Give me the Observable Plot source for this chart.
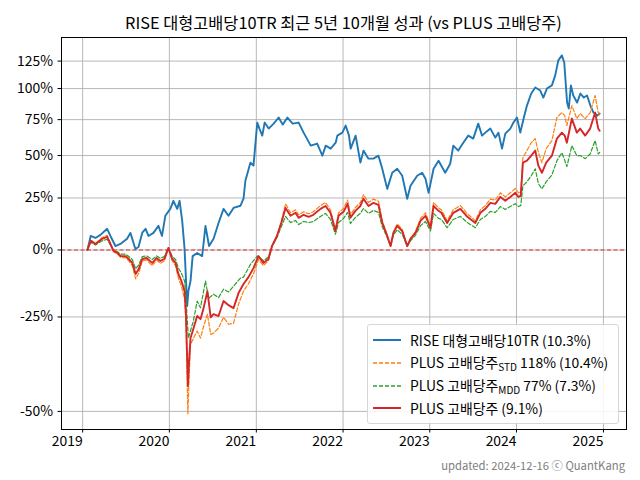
<!DOCTYPE html>
<html>
<head>
<meta charset="utf-8">
<script src="https://cdn.jsdelivr.net/npm/d3@7"></script>
<script src="https://cdn.jsdelivr.net/npm/@observablehq/plot@0.6"></script>
<style>
  html, body { margin: 0; padding: 0; background: #fff; }
  #wrap { position: relative; width: 640px; height: 480px; font-family: "Noto Sans CJK KR", "Noto Sans", sans-serif; }
  #title { position: absolute; left: 343.5px; top: 21.5px; transform: translate(-50%, -50%); white-space: nowrap; font-size: 16px; color: #000; line-height: 1; }
  #foot { position: absolute; right: 15px; top: 465.5px; transform: translateY(-50%); white-space: nowrap; font-size: 12px; color: #808080; line-height: 1; }
  #legend { position: absolute; left: 367px; top: 324px; width: 252px; height: 100px; border: 1px solid #d6d6d6; border-radius: 3px; background: rgba(255,255,255,0.85); box-sizing: border-box; }
  .row { position: absolute; left: 5px; height: 20px; display: flex; align-items: center; font-size: 13.9px; white-space: nowrap; }
  .row svg { margin-right: 9px; }
  sub { font-size: 0.72em; vertical-align: -0.25em; }
</style>
</head>
<body>
<div id="wrap">
  <div id="chart"></div>
  <div id="title">RISE 대형고배당10TR 최근 5년 10개월 성과 (vs PLUS 고배당주)</div>
  <div id="legend"></div>
  <div id="foot">updated: 2024-12-16 ⓒ QuantKang</div>
</div>
<script>
// ---- data: cumulative return (%) ----
const rise = [
  ["2019-01-21",0],["2019-02-04",6.2],["2019-02-24",5.3],["2019-03-17",6.7],["2019-04-14",9.5],["2019-04-28",6.2],
  ["2019-05-19",1.7],["2019-06-09",2.6],["2019-07-07",4.9],["2019-07-21",7.6],["2019-08-11",0.4],["2019-08-24",1.3],
  ["2019-09-09",7.7],["2019-09-23",9.5],["2019-10-05",6.2],["2019-10-26",7.6],["2019-11-16",10.9],["2019-12-01",6.2],
  ["2019-12-15",15.8],["2020-01-05",19.3],["2020-01-18",23.5],["2020-02-03",19.3],["2020-02-13",23.5],["2020-02-24",13.3],
  ["2020-03-05",0.4],["2020-03-16",-21.4],["2020-03-21",-16.2],["2020-03-30",-12.5],["2020-04-08",-2.6],["2020-04-27",-1.3],
  ["2020-05-18",-2.6],["2020-06-01",10.9],["2020-06-16",1.7],["2020-07-05",4.9],["2020-07-26",12.3],["2020-08-16",19.3],
  ["2020-09-06",15.8],["2020-09-27",19.8],["2020-10-26",20.9],["2020-11-08",24.6],["2020-11-16",34.6],["2020-12-07",45.5],
  ["2020-12-20",43.6],["2021-01-05",72.8],["2021-01-14",68.4],["2021-01-26",63.4],["2021-02-05",72.8],["2021-02-22",68.4],
  ["2021-03-15",72.0],["2021-04-05",76.6],["2021-04-22",71.3],["2021-05-12",76.6],["2021-06-03",72.0],["2021-06-28",72.8],
  ["2021-07-19",65.5],["2021-08-18",56.5],["2021-09-14",57.9],["2021-10-06",49.9],["2021-10-20",56.5],["2021-11-10",54.5],
  ["2021-12-01",58.5],["2021-12-08",63.4],["2021-12-29",65.5],["2022-01-12",70.6],["2022-01-26",63.4],["2022-02-02",54.5],
  ["2022-02-23",63.4],["2022-03-15",45.5],["2022-03-28",53.2],["2022-04-18",48.0],["2022-05-09",48.0],["2022-05-30",49.9],
  ["2022-06-15",41.7],["2022-07-06",30.0],["2022-07-27",39.3],["2022-08-17",41.7],["2022-09-07",37.5],["2022-09-28",24.6],
  ["2022-10-12",31.7],["2022-11-09",37.5],["2022-11-30",39.3],["2022-12-14",35.8],["2022-12-27",27.8],["2023-01-17",41.7],
  ["2023-02-07",46.7],["2023-03-07",39.3],["2023-03-28",44.8],["2023-04-10",56.5],["2023-05-01",53.2],["2023-05-22",58.5],
  ["2023-06-12",63.4],["2023-07-03",61.3],["2023-07-24",72.0],["2023-08-09",63.4],["2023-08-23",65.5],["2023-09-13",68.4],
  ["2023-10-04",62.0],["2023-10-17",65.5],["2023-11-01",54.5],["2023-11-15",64.8],["2023-12-06",68.4],["2023-12-19",72.8],
  ["2024-01-03",76.6],["2024-01-17",65.5],["2024-01-31",75.8],["2024-02-14",85.9],["2024-03-03",95.8],["2024-03-20",100.9],
  ["2024-04-10",98.3],["2024-04-23",92.4],["2024-05-08",100.0],["2024-05-29",102.7],["2024-06-12",111.6],["2024-06-25",125.7],
  ["2024-07-10",130.6],["2024-07-20",123.7],["2024-08-01",88.3],["2024-08-08",83.5],["2024-08-17",102.7],["2024-08-27",94.1],
  ["2024-09-12",88.3],["2024-09-26",95.8],["2024-10-10",92.4],["2024-10-24",94.1],["2024-11-07",85.9],["2024-11-20",80.4],
  ["2024-12-06",78.1],["2024-12-16",79.6]
];
const plusStd = [
  ["2019-01-21",0],["2019-02-04",4.5],["2019-02-24",2.8],["2019-03-24",5.5],["2019-04-14",6.5],["2019-04-28",2.8],
  ["2019-05-11",-0.8],["2019-05-28",-1.8],["2019-06-10",-3.2],["2019-07-01",-3.2],["2019-07-14",-4.6],["2019-07-29",-6.5],
  ["2019-08-12",-11.7],["2019-08-25",-9.5],["2019-09-09",-4.6],["2019-09-27",-4.2],["2019-10-21",-6.5],["2019-11-08",-4.2],
  ["2019-11-24",-5.6],["2019-12-11",-4.6],["2019-12-28",1.0],["2020-01-13",-4.6],["2020-01-27",-6.5],["2020-02-08",-11.5],
  ["2020-02-21",-14.5],["2020-03-05",-19.0],["2020-03-11",-28.0],["2020-03-19",-50.5],["2020-03-24",-42.0],["2020-03-30",-33.3],
  ["2020-04-12",-31.5],["2020-04-27",-29.4],["2020-05-11",-31.5],["2020-05-24",-28.0],["2020-06-09",-24.1],["2020-06-23",-30.4],
  ["2020-07-05",-30.0],["2020-07-26",-28.5],["2020-08-16",-25.1],["2020-09-06",-27.3],["2020-09-27",-27.0],["2020-10-18",-20.8],
  ["2020-11-08",-16.2],["2020-11-29",-13.5],["2020-12-20",-9.8],["2021-01-10",-4.0],["2021-01-31",-6.5],["2021-02-21",-4.5],
  ["2021-03-08",1.5],["2021-03-29",6.5],["2021-04-16",13.0],["2021-05-04",21.9],["2021-05-25",17.3],["2021-06-15",18.8],
  ["2021-06-28",16.3],["2021-07-19",17.8],["2021-08-09",16.8],["2021-08-29",17.8],["2021-09-28",21.0],["2021-10-19",22.6],
  ["2021-11-09",18.8],["2021-11-30",9.3],["2021-12-13",17.3],["2022-01-03",19.5],["2022-01-20",23.9],["2022-02-01",16.3],
  ["2022-02-22",20.0],["2022-03-15",22.6],["2022-03-28",26.8],["2022-04-18",22.6],["2022-05-09",24.4],["2022-05-30",23.3],
  ["2022-06-15",13.4],["2022-07-06",6.6],["2022-07-20",1.6],["2022-08-01",8.2],["2022-08-17",11.8],["2022-09-07",9.2],
  ["2022-09-28",1.6],["2022-10-12",5.2],["2022-11-02",8.2],["2022-11-23",14.5],["2022-12-14",17.3],["2023-01-04",10.8],
  ["2023-01-17",22.6],["2023-02-07",19.8],["2023-02-19",18.8],["2023-03-15",13.4],["2023-04-10",18.8],["2023-05-10",21.0],
  ["2023-06-08",16.8],["2023-07-12",13.4],["2023-08-02",18.8],["2023-08-23",21.0],["2023-09-13",24.4],["2023-10-04",23.9],
  ["2023-10-25",27.8],["2023-11-15",25.6],["2023-12-06",27.8],["2023-12-27",30.2],["2024-01-09",27.8],["2024-01-19",28.5],
  ["2024-01-28",48.6],["2024-02-14",53.2],["2024-03-03",58.5],["2024-03-20",61.3],["2024-04-02",51.9],["2024-04-17",45.5],
  ["2024-05-05",54.5],["2024-05-29",59.9],["2024-06-19",76.6],["2024-07-10",80.4],["2024-07-22",78.1],["2024-07-31",70.6],
  ["2024-08-21",85.9],["2024-09-11",75.8],["2024-09-25",79.6],["2024-10-16",75.8],["2024-11-06",80.4],["2024-11-27",94.1],
  ["2024-12-10",80.4],["2024-12-16",78.1]
];
const plusMdd = [
  ["2019-01-21",0],["2019-02-04",3.3],["2019-02-24",2.2],["2019-03-24",4.0],["2019-04-14",4.7],["2019-04-28",2.2],
  ["2019-05-11",-0.2],["2019-05-28",-0.8],["2019-06-10",-1.8],["2019-07-01",-1.8],["2019-07-14",-2.8],["2019-07-29",-4.0],
  ["2019-08-12",-7.8],["2019-08-25",-6.2],["2019-09-09",-2.8],["2019-09-27",-2.5],["2019-10-21",-4.0],["2019-11-08",-2.5],
  ["2019-11-24",-3.5],["2019-12-11",-2.8],["2019-12-28",1.0],["2020-01-13",-2.8],["2020-01-27",-4.0],["2020-02-08",-7.5],
  ["2020-02-21",-9.5],["2020-03-05",-12.5],["2020-03-11",-19.0],["2020-03-21",-31.5],["2020-04-11",-26.3],["2020-04-27",-19.7],
  ["2020-05-11",-22.0],["2020-06-01",-12.5],["2020-06-14",-18.7],["2020-07-05",-17.3],["2020-07-26",-18.5],["2020-08-16",-15.5],
  ["2020-09-06",-16.5],["2020-09-27",-14.4],["2020-10-26",-11.4],["2020-11-08",-11.0],["2020-12-08",-5.9],["2021-01-05",-2.6],
  ["2021-01-31",-4.5],["2021-02-21",-3.0],["2021-03-08",1.5],["2021-03-29",5.5],["2021-04-16",10.5],["2021-05-04",15.5],
  ["2021-05-25",12.5],["2021-06-15",13.5],["2021-06-28",11.5],["2021-07-19",13.0],["2021-08-09",12.5],["2021-08-29",13.0],
  ["2021-09-28",15.5],["2021-10-19",17.0],["2021-11-09",14.0],["2021-11-30",7.0],["2021-12-13",12.5],["2022-01-03",14.5],
  ["2022-01-20",17.5],["2022-02-01",12.0],["2022-02-22",15.0],["2022-03-15",17.0],["2022-03-28",19.5],["2022-04-18",17.0],
  ["2022-05-09",18.5],["2022-05-30",17.5],["2022-06-15",10.5],["2022-07-06",5.5],["2022-07-20",1.5],["2022-08-01",6.5],
  ["2022-08-17",9.0],["2022-09-07",7.0],["2022-09-28",1.5],["2022-10-12",4.0],["2022-11-02",6.5],["2022-11-23",11.0],
  ["2022-12-14",13.0],["2023-01-04",8.5],["2023-01-17",17.0],["2023-02-07",14.5],["2023-02-19",14.0],["2023-03-15",10.0],
  ["2023-04-10",14.0],["2023-05-10",15.5],["2023-06-08",12.5],["2023-07-12",10.0],["2023-08-02",14.0],["2023-08-23",15.5],
  ["2023-09-13",18.0],["2023-10-04",17.5],["2023-10-25",20.5],["2023-11-15",19.0],["2023-12-06",20.5],["2023-12-27",22.0],
  ["2024-01-09",20.5],["2024-01-19",21.0],["2024-01-28",31.7],["2024-02-14",34.0],["2024-03-03",37.5],["2024-03-20",41.7],
  ["2024-04-02",33.0],["2024-04-17",30.0],["2024-05-05",34.0],["2024-05-29",38.0],["2024-06-19",46.7],["2024-07-10",51.8],
  ["2024-07-22",47.0],["2024-07-31",43.0],["2024-08-21",56.5],["2024-09-11",49.9],["2024-09-25",50.0],["2024-10-16",48.0],
  ["2024-11-06",51.0],["2024-11-27",60.0],["2024-12-10",51.0],["2024-12-16",52.0]
];
const plus = [
  ["2019-01-21",0],["2019-02-04",4.0],["2019-02-24",2.6],["2019-03-24",4.9],["2019-04-14",5.8],["2019-04-28",2.6],
  ["2019-05-11",-0.4],["2019-05-28",-1.3],["2019-06-10",-2.6],["2019-07-01",-2.6],["2019-07-14",-3.8],["2019-07-29",-5.4],
  ["2019-08-12",-9.8],["2019-08-25",-7.9],["2019-09-09",-3.8],["2019-09-27",-3.4],["2019-10-21",-5.4],["2019-11-08",-3.4],
  ["2019-11-24",-4.6],["2019-12-11",-3.8],["2019-12-28",0.9],["2020-01-13",-3.8],["2020-01-27",-5.4],["2020-02-08",-9.8],
  ["2020-02-21",-12.5],["2020-03-05",-16.2],["2020-03-11",-24.1],["2020-03-19",-44.3],["2020-03-24",-38.0],["2020-03-30",-31.5],
  ["2020-04-12",-28.5],["2020-04-27",-24.7],["2020-05-11",-25.7],["2020-05-24",-22.1],["2020-06-09",-16.2],["2020-06-23",-25.1],
  ["2020-07-05",-24.1],["2020-07-26",-24.7],["2020-08-16",-19.7],["2020-09-06",-21.1],["2020-09-27",-22.1],["2020-10-18",-16.9],
  ["2020-11-08",-13.6],["2020-11-29",-11.0],["2020-12-20",-7.5],["2021-01-10",-2.6],["2021-01-31",-5.4],["2021-02-21",-3.8],
  ["2021-03-08",1.7],["2021-03-29",6.2],["2021-04-16",12.3],["2021-05-04",19.8],["2021-05-25",15.8],["2021-06-15",17.3],
  ["2021-06-28",14.8],["2021-07-19",16.3],["2021-08-09",15.3],["2021-08-29",16.3],["2021-09-28",19.3],["2021-10-19",20.8],
  ["2021-11-09",17.3],["2021-11-30",8.5],["2021-12-13",15.8],["2022-01-03",17.8],["2022-01-20",21.9],["2022-02-01",14.8],
  ["2022-02-22",18.3],["2022-03-15",20.8],["2022-03-28",24.6],["2022-04-18",20.8],["2022-05-09",22.4],["2022-05-30",21.4],
  ["2022-06-15",12.3],["2022-07-06",6.2],["2022-07-20",1.7],["2022-08-01",7.6],["2022-08-17",10.9],["2022-09-07",8.5],
  ["2022-09-28",1.7],["2022-10-12",4.9],["2022-11-02",7.6],["2022-11-23",13.3],["2022-12-14",15.8],["2023-01-04",9.9],
  ["2023-01-17",20.8],["2023-02-07",18.3],["2023-02-19",17.3],["2023-03-15",12.3],["2023-04-10",17.3],["2023-05-10",19.3],
  ["2023-06-08",15.3],["2023-07-12",12.3],["2023-08-02",17.3],["2023-08-23",19.3],["2023-09-13",22.4],["2023-10-04",21.9],
  ["2023-10-25",25.6],["2023-11-15",23.5],["2023-12-06",25.6],["2023-12-27",27.8],["2024-01-09",25.6],["2024-01-19",26.2],
  ["2024-01-28",45.5],["2024-02-14",46.7],["2024-03-03",49.9],["2024-03-20",53.2],["2024-04-02",43.6],["2024-04-17",39.3],
  ["2024-05-05",45.5],["2024-05-29",49.9],["2024-06-19",61.3],["2024-07-10",65.5],["2024-07-22",63.4],["2024-07-31",58.5],
  ["2024-08-21",75.8],["2024-09-11",65.5],["2024-09-25",68.4],["2024-10-16",63.4],["2024-11-06",68.4],["2024-11-27",80.4],
  ["2024-12-10",68.4],["2024-12-16",66.9]
];
const yTickPct = [-50, -25, 0, 25, 50, 75, 100, 125];
const xTickYears = [2019, 2020, 2021, 2022, 2023, 2024, 2025];
const seriesNames = [
  "RISE 대형고배당10TR (10.3%)",
  "PLUS 고배당주<sub>STD</sub> 118% (10.4%)",
  "PLUS 고배당주<sub>MDD</sub> 77% (7.3%)",
  "PLUS 고배당주 (9.1%)"
];
const colors = ["#1f77b4", "#ff7f0e", "#2ca02c", "#d62728"];

const toRows = arr => arr.map(([d, v]) => ({date: new Date(d), value: 1 + v / 100}));

const chart = Plot.plot({
  width: 640,
  height: 480,
  marginLeft: 61,
  marginRight: 14,
  marginTop: 37,
  marginBottom: 51,
  style: {fontFamily: '"Noto Sans CJK KR", "Noto Sans", sans-serif', fontSize: "13.9px", color: "#000", background: "#fff"},
  x: {type: "utc", domain: [new Date("2018-10-04"), new Date("2025-04-08")]},
  y: {type: "log", domain: [0.4626, 2.49]},
  marks: [
    Plot.gridX(xTickYears.map(y => new Date(Date.UTC(y, 0, 1))), {stroke: "#b0b0b0", strokeOpacity: 1, strokeWidth: 0.9}),
    Plot.gridY(yTickPct.map(p => 1 + p / 100), {stroke: "#b0b0b0", strokeOpacity: 1, strokeWidth: 0.9}),
    Plot.ruleY([1], {stroke: "#ee2a2a", strokeWidth: 1.1, strokeDasharray: "4,2.5"}),
    Plot.lineY(toRows(rise), {x: "date", y: "value", stroke: colors[0], strokeWidth: 1.9}),
    Plot.lineY(toRows(plusStd), {x: "date", y: "value", stroke: colors[1], strokeWidth: 1.2, strokeDasharray: "4,2"}),
    Plot.lineY(toRows(plusMdd), {x: "date", y: "value", stroke: colors[2], strokeWidth: 1.2, strokeDasharray: "4,2"}),
    Plot.lineY(toRows(plus), {x: "date", y: "value", stroke: colors[3], strokeWidth: 1.9}),
    Plot.axisX(xTickYears.map(y => new Date(Date.UTC(y, 0, 1))), {tickFormat: d => String(d.getUTCFullYear()), tickSize: 3.5, tickPadding: 3, textAnchor: "end", label: null}),
    Plot.axisY(yTickPct.map(p => 1 + p / 100), {tickFormat: d => Math.round((d - 1) * 100) + "%", tickSize: 3.5, tickPadding: 5, label: null}),
    Plot.frame({stroke: "#000", strokeWidth: 1})
  ]
});
document.getElementById("chart").appendChild(chart);

// legend (HTML)
const leg = document.getElementById("legend");
const rowTops = [5, 28, 51, 73];
seriesNames.forEach((name, i) => {
  const row = document.createElement("div");
  row.className = "row";
  row.style.top = rowTops[i] + "px";
  const dashed = i === 1 || i === 2;
  row.innerHTML = `<svg width="28" height="6"><line x1="0" y1="3" x2="28" y2="3" stroke="${colors[i]}" stroke-width="${dashed ? 1.3 : 2}" ${dashed ? 'stroke-dasharray="4,2"' : ''}/></svg><span>${name}</span>`;
  leg.appendChild(row);
});

// size title and footer text so their widths match the reference layout
function fitWidth(el, target) {
  const fs = parseFloat(getComputedStyle(el).fontSize);
  const w = el.getBoundingClientRect().width;
  if (w > 0) el.style.fontSize = (fs * target / w).toFixed(2) + "px";
}
fitWidth(document.getElementById("title"), 437);
fitWidth(document.getElementById("foot"), 184);
</script>
</body>
</html>
